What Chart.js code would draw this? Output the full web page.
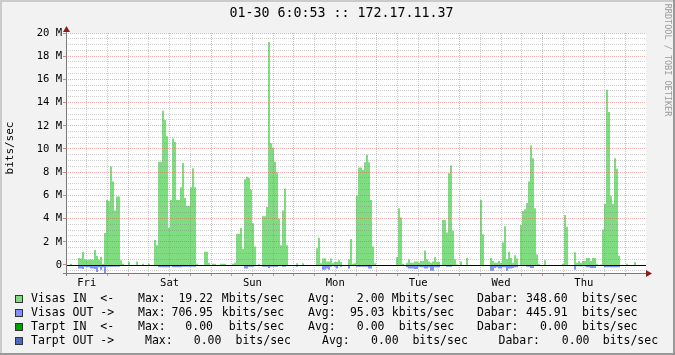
<!DOCTYPE html>
<html><head><meta charset="utf-8">
<script src="https://cdn.jsdelivr.net/npm/chart.js@4/dist/chart.umd.min.js"></script>
<style>html,body{margin:0;padding:0;background:#f2f2f2;}canvas{display:block;}</style>
</head><body>
<canvas id="c" width="675" height="355"></canvas>
<script>
const TITLE = '01-30 6:0:53 :: 172.17.11.37';
const Y_TITLE = 'bits/sec';
const WATERMARK = 'RRDTOOL / TOBI OETIKER';
const DAY_LABELS = ['Fri', 'Sat', 'Sun', 'Mon', 'Tue', 'Wed', 'Thu'];
const HOURS_SPAN = 168;
const Y_MIN = -0.69;
const Y_MAX = 20;

// Visas IN, Mbit/s, one sample per ~35 min
const IN_MBPS = [
  0,0,0.1,0,0,0,0.6,0.55,1.15,0.5,
  0.45,0.45,0.5,0.45,1.3,0.8,0.45,0.7,0.1,2.75,
  5.6,5.5,8.5,7.2,4.7,5.9,5.9,0.4,0.1,0,
  0,0.25,0,0,0,0.3,0,0,0.1,0,
  0,0.1,0,0,2.15,1.7,8.9,8.9,13.3,12.5,
  11.1,3.2,5.6,10.9,10.6,5.6,5.6,6.7,8.8,5.8,
  5.1,5.1,6.7,8.35,6.7,0.1,0,0,0,1.15,
  1.15,0.2,0,0.1,0.1,0,0,0.1,0.1,0.1,
  0,0,0,0.1,0.2,2.7,2.7,3.2,1.4,7.4,
  7.6,7.5,6.5,3.6,1.6,0,0.1,0,4.2,4.2,
  5.0,19.22,10.5,10.1,8.9,8.0,4.0,1.7,4.7,6.6,
  1.7,0,0,0,0,0.15,0,0,0.15,0,
  0,0,0,0,0,1.45,2.35,0.15,0.55,0.55,
  0.3,0.3,0.55,0.15,0.25,0.25,0.4,0.25,0,0,
  0,0.5,2.25,0.1,0.15,6.0,8.4,8.4,8.2,8.85,
  9.5,8.85,5.6,1.6,0.15,0,0,0,0,0,
  0,0,0,0,0,0.7,4.9,4.1,0.1,0,
  0.2,0.5,0.2,0.2,0.3,0.3,0.2,0.35,0.35,1.25,
  0.5,0.3,0.2,0.3,0.7,0.25,0.25,0,3.9,3.9,
  2.8,7.9,8.6,2.95,0.5,0.05,0,0.3,0,0,
  0.6,0,0,0,0,0,0,5.6,2.65,0,
  0,0,0.6,0.35,0.2,0.2,0.35,0.2,1.95,3.35,
  0.5,1.15,0.6,0.2,0.85,0.55,0,3.45,4.65,4.8,
  5.35,7.2,10.3,9.2,4.9,0.9,0.1,0,0,0.4,
  0,0,0,0,0,0,0,0,0.1,4.3,
  3.3,0,0,0,1.1,0.2,0.35,0.2,0.35,0.35,
  0.6,0.6,0.35,0.6,0.6,0.1,0,0.05,3.05,5.25,
  15.1,13.2,5.95,5.25,9.2,8.3,0.8,0,0,0,
  0.1,0,0,0,0.25,0,0,0,0,0
];

// Visas OUT, Mbit/s (drawn below zero)
const OUT_MBPS = [
  0,0,0,0,0,0,0.3,0.3,0.35,0.15,
  0.2,0.2,0.3,0.3,0.35,0.6,0.2,0.4,0.2,0.707,
  0.15,0.15,0.15,0.15,0.15,0.15,0.15,0,0,0,
  0,0,0,0,0,0,0,0,0,0,
  0,0,0,0,0,0,0.2,0.2,0.2,0.2,
  0.2,0.2,0.1,0.2,0.2,0.2,0.2,0.2,0.15,0.15,
  0.15,0.15,0.15,0.15,0.15,0,0,0,0,0,
  0,0,0,0,0,0,0,0,0,0,
  0,0,0,0,0,0,0,0,0,0.3,
  0.3,0.15,0.15,0.15,0.1,0,0,0,0.15,0.15,
  0.15,0.25,0.15,0.15,0.15,0.15,0,0,0.15,0.15,
  0,0,0,0,0,0.15,0,0,0,0,
  0,0,0,0,0,0,0,0,0.4,0.4,
  0.3,0.4,0.15,0,0.15,0.3,0,0.15,0,0,
  0,0.3,0,0,0,0.15,0.15,0.15,0.15,0.15,
  0.15,0.3,0.3,0,0,0,0,0,0,0,
  0,0,0,0,0,0,0,0,0,0,
  0.2,0.3,0.3,0.3,0.35,0.35,0.15,0.2,0.2,0.3,
  0.3,0.2,0.5,0.5,0.2,0.2,0.2,0,0,0,
  0.15,0.15,0.15,0,0,0,0,0,0,0,
  0,0,0,0,0,0,0,0,0,0,
  0,0,0.5,0.5,0.25,0.2,0.3,0.3,0.2,0.2,
  0.5,0.3,0.3,0.25,0.2,0.2,0,0,0,0,
  0.15,0.15,0.25,0.25,0,0,0,0,0,0,
  0,0,0,0,0,0,0,0,0,0,
  0,0,0,0,0.4,0.1,0.1,0.1,0.1,0.1,
  0.2,0.2,0.25,0.25,0.25,0,0,0,0,0.2,
  0.2,0.2,0.2,0.2,0.2,0.2,0.2,0,0,0,
  0,0,0,0,0,0,0,0,0,0
];

const SERIES_NAMES = ['Visas IN  <-', 'Visas OUT ->', 'Tarpt IN  <-', 'Tarpt OUT ->'];
const SERIES_COLORS = ['#80dc80', '#8090ff', '#00a000', '#4f68c0'];
const MAX_VALUES = ['19.22', '706.95', '0.00', '0.00'];
const MAX_PREFIX = ['M', 'k', ' ', ' '];
const AVG_VALUES = ['2.00', '95.03', '0.00', '0.00'];
const AVG_PREFIX = ['M', 'k', ' ', ' '];
const LAST_VALUES = ['348.60', '445.91', '0.00', '0.00'];
const LAST_PREFIX = [' ', ' ', ' ', ' '];

const MONO = 'DejaVu Sans Mono';
const MINOR = 'rgba(128,128,128,0.38)';
const MAJOR = 'rgba(225,70,70,0.42)';

function toPoints(arr, sign) {
  const step = HOURS_SPAN / arr.length;
  const pts = arr.map((v, i) => ({ x: i * step, y: sign * v }));
  pts.push({ x: HOURS_SPAN, y: sign * arr[arr.length - 1] });
  return pts;
}

const chrome = {
  id: 'rrdChrome',
  beforeDraw(chart) {
    const ctx = chart.ctx, a = chart.chartArea;
    ctx.save();
    ctx.fillStyle = '#f2f2f2';
    ctx.fillRect(0, 0, 675, 355);
    ctx.fillStyle = '#ffffff';
    ctx.fillRect(a.left, a.top, a.right - a.left, a.bottom - a.top);
    ctx.fillStyle = '#cbcbcb';
    ctx.fillRect(0, 0, 675, 2);
    ctx.fillRect(0, 0, 2, 355);
    ctx.fillStyle = '#999999';
    ctx.fillRect(0, 353, 675, 2);
    ctx.fillRect(673, 0, 2, 355);
    ctx.restore();
  },
  afterDraw(chart) {
    const ctx = chart.ctx, a = chart.chartArea;
    const ys = chart.scales.y;
    ctx.save();
    const y0 = Math.round(ys.getPixelForValue(0)) + 0.5;
    ctx.strokeStyle = '#000';
    ctx.lineWidth = 1;
    ctx.beginPath(); ctx.moveTo(a.left, y0); ctx.lineTo(a.right, y0); ctx.stroke();
    ctx.strokeStyle = '#7a7a7a';
    const ax = a.left + 0.5, ay = a.bottom + 0.5;
    ctx.beginPath(); ctx.moveTo(ax, a.bottom + 3); ctx.lineTo(ax, a.top - 4); ctx.stroke();
    ctx.beginPath(); ctx.moveTo(a.left - 3, ay); ctx.lineTo(a.right + 3, ay); ctx.stroke();
    ctx.fillStyle = '#8b1c1c';
    ctx.beginPath(); ctx.moveTo(ax - 3.5, a.top - 1); ctx.lineTo(ax + 3.5, a.top - 1); ctx.lineTo(ax, a.top - 7); ctx.closePath(); ctx.fill();
    ctx.beginPath(); ctx.moveTo(a.right, ay - 3.5); ctx.lineTo(a.right, ay + 3.5); ctx.lineTo(a.right + 6, ay); ctx.closePath(); ctx.fill();

    ctx.fillStyle = '#000';
    ctx.font = '13.3px "' + MONO + '"';
    ctx.textAlign = 'center'; ctx.textBaseline = 'middle';
    ctx.fillText(TITLE, 341.5, 14);
    ctx.save();
    ctx.translate(10, 148);
    ctx.rotate(-Math.PI / 2);
    ctx.font = '11px "' + MONO + '"';
    ctx.fillText(Y_TITLE, 0, 0);
    ctx.restore();
    ctx.save();
    ctx.translate(667, 60);
    ctx.rotate(Math.PI / 2);
    ctx.fillStyle = '#9a9a9a';
    ctx.font = '8.5px "' + MONO + '"';
    ctx.fillText(WATERMARK, 0, 0);
    ctx.restore();

    const rowY = [299.5, 313.5, 327.5, 341.5];
    const cols = [
      { max: 138, maxEnd: 213, maxUnit: 214.8, avg: 308, avgEnd: 384.5, avgUnit: 384.8, cur: 477, curEnd: 567.6, curUnit: 568.2 },
      { max: 145, maxEnd: 221.4, maxUnit: 228.6, avg: 322, avgEnd: 398.7, avgUnit: 405.5, cur: 498.5, curEnd: 589.5, curUnit: 595.8 }
    ];
    ctx.font = '11.5px "' + MONO + '"';
    ctx.textBaseline = 'middle';
    for (let r = 0; r < 4; r++) {
      const y = rowY[r];
      const c = r === 3 ? cols[1] : cols[0];
      const top = Math.round(y - 4.5);
      ctx.fillStyle = SERIES_COLORS[r];
      ctx.fillRect(15, top, 8, 8);
      ctx.strokeStyle = '#333';
      ctx.strokeRect(15.5, top + 0.5, 7, 7);
      ctx.fillStyle = '#000';
      ctx.textAlign = 'left';
      ctx.fillText(SERIES_NAMES[r], 31, y);
      ctx.fillText('Max:', c.max, y);
      ctx.fillText('Avg:', c.avg, y);
      ctx.fillText('Dabar:', c.cur, y);
      ctx.textAlign = 'right';
      ctx.fillText(MAX_VALUES[r], c.maxEnd, y);
      ctx.fillText(AVG_VALUES[r], c.avgEnd, y);
      ctx.fillText(LAST_VALUES[r], c.curEnd, y);
      ctx.textAlign = 'left';
      const pad = r === 3 ? 0 : 7;
      ctx.fillText(MAX_PREFIX[r] + 'bits/sec', c.maxUnit + pad, y);
      ctx.fillText(AVG_PREFIX[r] + 'bits/sec', c.avgUnit + pad, y);
      ctx.fillText(' ' + LAST_PREFIX[r].trim() + 'bits/sec', c.curUnit + pad, y);
    }
    ctx.restore();
  }
};

const isMajorY = v => Math.abs(v % 2) < 1e-9;

new Chart(document.getElementById('c'), {
  type: 'line',
  data: {
    datasets: [
      { label: 'Visas IN', data: toPoints(IN_MBPS, 1), stepped: true, fill: 'origin',
        backgroundColor: SERIES_COLORS[0], borderColor: 'rgba(0,0,0,0)', borderWidth: 0, pointRadius: 0 },
      { label: 'Visas OUT', data: toPoints(OUT_MBPS, -1), stepped: true, fill: 'origin',
        backgroundColor: SERIES_COLORS[1], borderColor: 'rgba(0,0,0,0)', borderWidth: 0, pointRadius: 0 }
    ]
  },
  options: {
    responsive: false,
    devicePixelRatio: 1,
    animation: false,
    events: [],
    layout: { padding: { left: 0, top: 33, right: 29, bottom: 62 } },
    plugins: { legend: { display: false }, title: { display: false }, tooltip: { enabled: false } },
    scales: {
      x: {
        type: 'linear', min: 0, max: HOURS_SPAN,
        afterBuildTicks: s => { const t = []; for (let h = 0; h <= HOURS_SPAN; h += 6) t.push({ value: h }); s.ticks = t; },
        afterFit: s => { s.height = 20; },
        grid: {
          z: 1, lineWidth: 1, tickLength: 3,
          color: c => { const v = c.tick.value; if (v === 0 || v === HOURS_SPAN) return 'rgba(0,0,0,0)'; return (v % 24 === 18) ? MAJOR : MINOR; },
          tickColor: c => (c.tick.value % 24 === 18) ? '#c88' : '#aaa'
        },
        border: { display: false, dash: [1, 1] },
        ticks: {
          autoSkip: false, maxRotation: 0, padding: 1, color: '#000',
          font: { family: MONO, size: 10.5 },
          callback: v => ((v - 6) % 24 === 0 && v >= 6) ? DAY_LABELS[(v - 6) / 24] : ''
        }
      },
      y: {
        type: 'linear', min: Y_MIN, max: Y_MAX,
        afterBuildTicks: s => { const t = []; for (let k = -1; k <= 40; k++) t.push({ value: k * 0.5 }); s.ticks = t; },
        afterFit: s => { s.width = 66; },
        grid: {
          z: 1, lineWidth: 1, tickLength: 3,
          color: c => { const v = c.tick.value; if (v === 0) return 'rgba(0,0,0,0)'; return isMajorY(v) ? MAJOR : MINOR; },
          tickColor: c => isMajorY(c.tick.value) ? '#c88' : 'rgba(0,0,0,0)'
        },
        border: { display: false, dash: [1, 1] },
        ticks: {
          autoSkip: false, padding: 1, color: '#000',
          font: { family: MONO, size: 10.5 },
          callback: v => isMajorY(v) ? (v === 0 ? '0' : v + ' M') : ''
        }
      }
    }
  },
  plugins: [chrome]
});
</script>
</body></html>
